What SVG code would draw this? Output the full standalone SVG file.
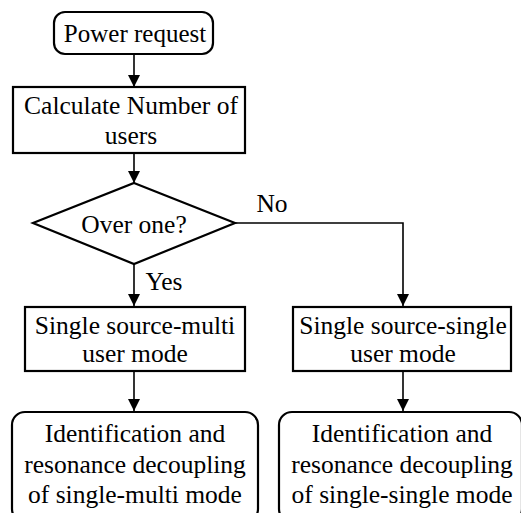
<svg xmlns="http://www.w3.org/2000/svg" width="521" height="513" viewBox="0 0 521 513">
<style>
.b{fill:#fff;stroke:#000;stroke-width:2.2}
.t{font-family:'Liberation Serif','DejaVu Serif',serif;font-size:25.5px;fill:#000;text-anchor:middle}
.c{fill:none;stroke:#000;stroke-width:1.6}
</style>
<defs>
<marker id="ah" markerWidth="12" markerHeight="12" viewBox="0 0 12 12" refX="12" refY="6" orient="auto" markerUnits="userSpaceOnUse">
<path d="M0,0 L12,6 L0,12 Z" fill="#000"/>
</marker>
</defs>
<rect width="521" height="513" fill="#fff"/>
<g id="connectors">
<line class="c" x1="134" y1="54" x2="134" y2="87" marker-end="url(#ah)"/>
<line class="c" x1="134" y1="153" x2="134" y2="183" marker-end="url(#ah)"/>
<line class="c" x1="134" y1="264" x2="134" y2="306" marker-end="url(#ah)"/>
<polyline class="c" points="235,223 403,223 403,306" marker-end="url(#ah)"/>
<line class="c" x1="134" y1="371" x2="134" y2="411" marker-end="url(#ah)"/>
<line class="c" x1="403" y1="371" x2="403" y2="411" marker-end="url(#ah)"/>
<text class="t" x="272" y="212">No</text>
<text class="t" x="164" y="290">Yes</text>
</g>
<g id="start">
<rect class="b" x="54" y="12" width="159" height="42" rx="11"/>
<text class="t" x="135" y="42" style="font-size:25px">Power request</text>
</g>
<g id="calc">
<rect class="b" x="13" y="87" width="232" height="66"/>
<text class="t" x="131" y="114">Calculate Number of</text>
<text class="t" x="131" y="144">users</text>
</g>
<g id="decision">
<polygon class="b" points="134,183 235,223 134,264 33,223"/>
<text class="t" x="134" y="233">Over one?</text>
</g>
<g id="multi">
<rect class="b" x="25" y="307" width="220" height="64"/>
<text class="t" x="135" y="334">Single source-multi</text>
<text class="t" x="135" y="362">user mode</text>
</g>
<g id="single">
<rect class="b" x="293" y="307" width="218" height="64"/>
<text class="t" x="403" y="334">Single source-single</text>
<text class="t" x="403" y="362">user mode</text>
</g>
<g id="idmulti">
<rect class="b" x="12" y="412" width="246" height="110" rx="13"/>
<text class="t" x="135" y="442">Identification and</text>
<text class="t" x="135" y="473">resonance decoupling</text>
<text class="t" x="135" y="503">of single-multi mode</text>
</g>
<g id="idsingle">
<rect class="b" x="279" y="412" width="243" height="110" rx="13"/>
<text class="t" x="402" y="442">Identification and</text>
<text class="t" x="402" y="473">resonance decoupling</text>
<text class="t" x="402" y="503">of single-single mode</text>
</g>
</svg>
